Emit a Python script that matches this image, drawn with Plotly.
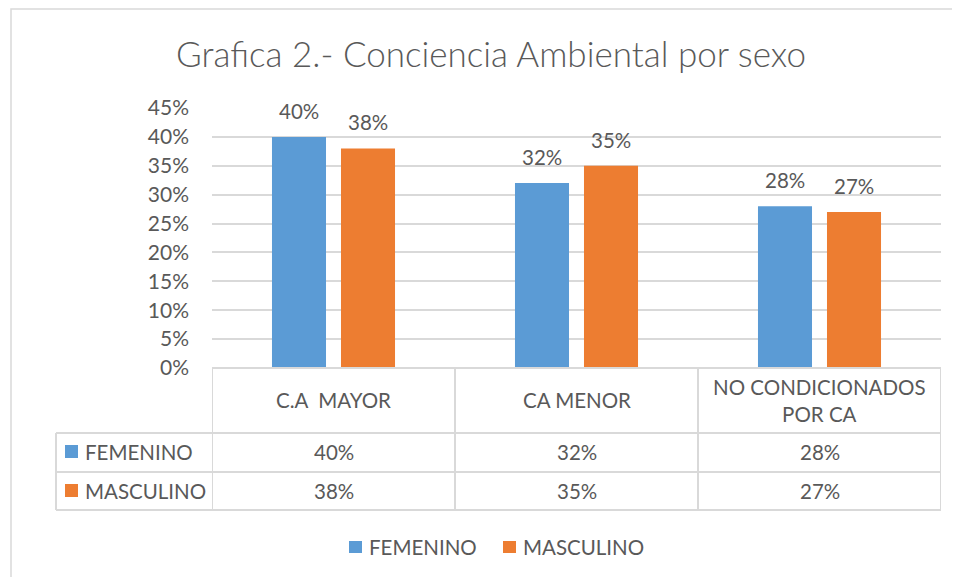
import plotly.graph_objects as go

categories = ["C.A  MAYOR", "CA MENOR", "NO CONDICIONADOS<br>POR CA"]
femenino = [0.40, 0.32, 0.28]
masculino = [0.38, 0.35, 0.27]
series_names = ["FEMENINO", "MASCULINO"]
y_ticks = [0, 0.05, 0.10, 0.15, 0.20, 0.25, 0.30, 0.35, 0.40, 0.45]
y_tick_labels = ["0%", "5%", "10%", "15%", "20%", "25%", "30%", "35%", "40%", "45%"]
title = "Grafica 2.- Conciencia Ambiental por sexo"

BLUE = "#5b9bd5"
ORANGE = "#ed7d31"
TXT = "#595959"
GRID = "#d9d9d9"
FONT = "Lato"
FS = 20.5

OFF = 8  # page body margin
W, H = 952, 569
L, R, T, B = 204, 19, 100, 209
PW = W - L - R
PH = H - T - B
BARGAP, GROUPGAP = 0.432, 0.217


def fx(px):
    return (px - OFF - L) / PW


def fy(py):
    return (H - B - (py - OFF)) / PH


series = [(series_names[0], femenino, BLUE), (series_names[1], masculino, ORANGE)]

fig = go.Figure()
xs = list(range(len(categories)))
for name, vals, col in series:
    fig.add_trace(go.Bar(
        x=xs, y=vals, name=name, marker=dict(color=col, line=dict(width=0)),
        showlegend=False,
    ))

shapes = []
annotations = []

# data labels above bars (positioned on the axes)
cat_px = PW / len(categories)
slot = (1 - BARGAP) * cat_px / 2
for k, (name, vals, col) in enumerate(series):
    xshift = (k - 0.5) * slot
    for i, v in enumerate(vals):
        annotations.append(dict(x=i, y=v, xref="x", yref="y", text=f"{round(v*100)}%",
                                showarrow=False, xshift=xshift, yshift=12,
                                font=dict(family=FONT, size=FS, color=TXT),
                                xanchor="center", yanchor="bottom"))

# outer chart border
shapes.append(dict(type="rect", xref="paper", yref="paper",
                   x0=fx(11), x1=fx(990), y0=fy(620), y1=fy(9),
                   line=dict(color=GRID, width=1.5), layer="below"))
# data table lines
shapes.append(dict(type="line", xref="x", yref="paper", x0=-0.5, x1=2.5,
                   y0=0, y1=0, line=dict(color=GRID, width=2)))
for py in [433, 472, 510]:
    shapes.append(dict(type="line", xref="paper", yref="paper", x0=fx(56), x1=1,
                       y0=fy(py), y1=fy(py), line=dict(color=GRID, width=2)))
for xb in [-0.5, 0.5, 1.5, 2.5]:
    shapes.append(dict(type="line", xref="x", yref="paper", x0=xb, x1=xb,
                       y0=0, y1=fy(510), line=dict(color=GRID, width=2)))
shapes.append(dict(type="line", xref="paper", yref="paper", x0=fx(56), x1=fx(56),
                   y0=fy(433), y1=fy(510), line=dict(color=GRID, width=2)))

# header row (category labels)
for i, c in enumerate(categories):
    annotations.append(dict(x=i, y=fy(400), xref="x", yref="paper", text=c,
                            showarrow=False, font=dict(family=FONT, size=FS, color=TXT),
                            xanchor="center", yanchor="middle"))

# data rows
for (name, vals, col), rc in zip(series, [452, 491]):
    shapes.append(dict(type="rect", xref="paper", yref="paper",
                       x0=fx(65), x1=fx(78), y0=fy(rc + 6), y1=fy(rc - 7),
                       fillcolor=col, line=dict(width=0)))
    annotations.append(dict(x=fx(83), y=fy(rc), xref="paper", yref="paper", text=name,
                            showarrow=False, font=dict(family=FONT, size=FS, color=TXT),
                            xanchor="left", yanchor="middle"))
    for i, v in enumerate(vals):
        annotations.append(dict(x=i, y=fy(rc), xref="x", yref="paper", text=f"{round(v*100)}%",
                                showarrow=False, font=dict(family=FONT, size=FS, color=TXT),
                                xanchor="center", yanchor="middle"))

# legend (bottom)
for (name, vals, col), lx in zip(series, [349, 503]):
    shapes.append(dict(type="rect", xref="paper", yref="paper",
                       x0=fx(lx), x1=fx(lx + 13), y0=fy(553), y1=fy(541),
                       fillcolor=col, line=dict(width=0)))
    annotations.append(dict(x=fx(lx + 18), y=fy(547), xref="paper", yref="paper", text=name,
                            showarrow=False, font=dict(family=FONT, size=FS, color=TXT),
                            xanchor="left", yanchor="middle"))

fig.update_layout(
    width=W, height=H,
    margin=dict(l=L, r=R, t=T, b=B),
    paper_bgcolor="white", plot_bgcolor="white",
    title=dict(text=title, x=(491 - OFF) / W, xanchor="center",
               y=1 - (55 - OFF) / H, yanchor="middle",
               font=dict(family=FONT, size=35, color=TXT, weight=300)),
    barmode="group", bargap=BARGAP, bargroupgap=GROUPGAP,
    xaxis=dict(range=[-0.5, 2.5], showticklabels=False, showgrid=False, zeroline=False,
               showline=False, fixedrange=True),
    yaxis=dict(range=[0, 0.45], tickvals=y_ticks, ticktext=y_tick_labels,
               showgrid=True, gridcolor=GRID, gridwidth=1.5, zeroline=False, showline=False,
               ticks="", ticklabelstandoff=22,
               tickfont=dict(family=FONT, size=21, color=TXT)),
    showlegend=False,
    shapes=shapes, annotations=annotations,
)

fig.write_html("out.html")
